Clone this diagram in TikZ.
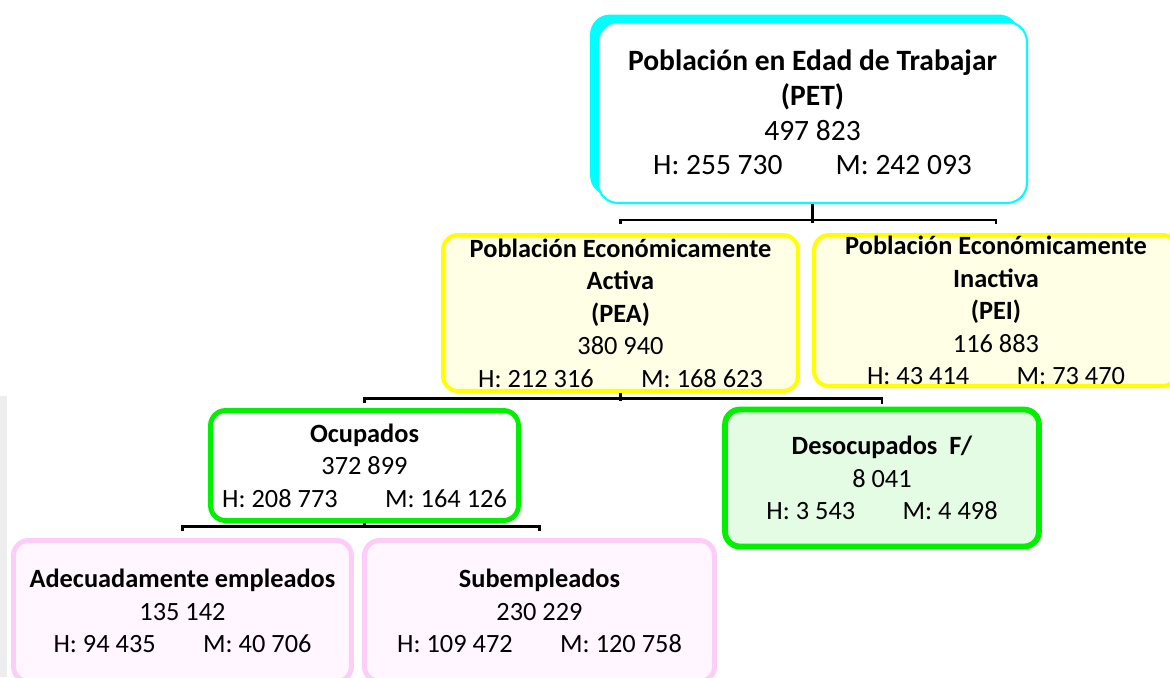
\documentclass[tikz,border=0pt]{standalone}
\usepackage{fontspec}
\setmainfont{Carlito}
\usetikzlibrary{shadows}

\definecolor{petcyan}{HTML}{00FFFF}
\definecolor{peayellow}{HTML}{FFFF00}
\definecolor{peafill}{HTML}{FFFFE6}
\definecolor{ocugreen}{HTML}{00F000}
\definecolor{desfill}{HTML}{E4FCE4}
\definecolor{subpink}{HTML}{FBCDF8}
\definecolor{subfill}{HTML}{FFF6FF}

\begin{document}
\begin{tikzpicture}[x=0.02cm, y=-0.02cm,
    box/.style={rounded corners=0.3cm, align=center, inner sep=0, font=\fontsize{15}{18.5}\selectfont},
    conn/.style={line width=1.3pt, black}]
                \clip (0,0) rectangle (1170,677);
                \fill[black!7] (0,396) rectangle (7,677);

                \node[box, font=\fontsize{16.8}{19.8}\selectfont, rounded corners=0.4cm, fill=white, draw=petcyan, line width=1.2pt, minimum width=8.58cm, minimum height=3.62cm, general shadow={fill=petcyan, shadow xshift=-0.16cm, shadow yshift=0.15cm}](PET) at (812.5,112.5) {\textbf{Población en Edad de Trabajar}\\\textbf{(PET)}\\497 823\\H: 255 730\hspace{1.8em}M: 242 093};

                \node[box, fill=peafill, draw=peayellow, line width=2.3pt, minimum width=7.1cm, minimum height=3.12cm](PEA) at (620.5,313) {\textbf{Población Económicamente}\\\textbf{Activa}\\\textbf{(PEA)}\\380 940\\H: 212 316\hspace{1.8em}M: 168 623};
                \node[box, fill=peafill, draw=peayellow, line width=2.3pt, minimum width=7.28cm, minimum height=3.02cm](PEI) at (996,310.5) {\textbf{Población Económicamente}\\\textbf{Inactiva}\\\textbf{(PEI)}\\116 883\\H: 43 414\hspace{1.8em}M: 73 470};

                \node[box, fill=white, draw=ocugreen, line width=2.8pt, minimum width=6.16cm, minimum height=2.2cm](OCU) at (364.5,465.5) {\textbf{Ocupados}\\372 899\\H: 208 773\hspace{1.8em}M: 164 126};
                \node[box, fill=desfill, draw=ocugreen, line width=3.3pt, minimum width=6.28cm, minimum height=2.74cm](DES) at (882,478) {\textbf{Desocupados\ \ F/}\\8 041\\H: 3 543\hspace{1.8em}M: 4 498};

                \node[box, fill=subfill, draw=subpink, line width=2.8pt, minimum width=6.76cm, minimum height=2.82cm](ADE) at (182.5,611) {\textbf{Adecuadamente empleados}\\135 142\\H: 94 435\hspace{1.8em}M: 40 706};
                \node[box, fill=subfill, draw=subpink, line width=2.8pt, minimum width=7.0cm, minimum height=2.82cm](SUB) at (539.5,611) {\textbf{Subempleados}\\230 229\\H: 109 472\hspace{1.8em}M: 120 758};

                \draw[conn] (PET.south) -- ++(0,19);
                \draw[conn] ([yshift=0.18cm]PEA.north) -- ++(0,-4) -| ([yshift=0.18cm]PEI.north);

                \draw[conn] (PEA.south) -- ++(0,8);
                \draw[conn] ([yshift=0.11cm]OCU.north) -- ++(0,-4) -| ([yshift=0.06cm]DES.north);

                \draw[conn] (OCU.south) -- ++(0,5);
                \draw[conn] ([yshift=0.15cm]ADE.north) -- ++(0,-4) -| ([yshift=0.15cm]SUB.north);
        \end{tikzpicture}
\end{document}
